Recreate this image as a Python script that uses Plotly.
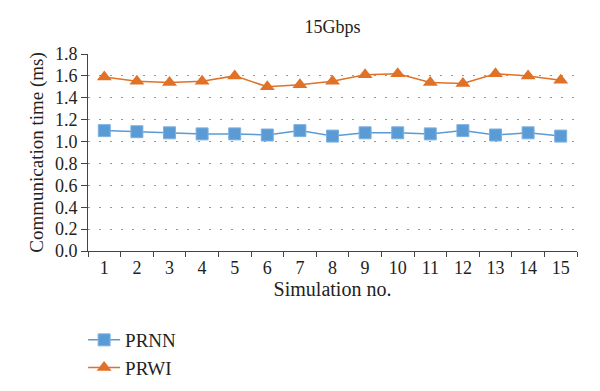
import plotly.graph_objects as go

sims = [str(i) for i in range(1, 16)]
prnn = [1.10, 1.09, 1.08, 1.07, 1.07, 1.06, 1.10, 1.05, 1.08, 1.08, 1.07, 1.10, 1.06, 1.08, 1.05]
prwi = [1.59, 1.55, 1.54, 1.55, 1.60, 1.50, 1.52, 1.55, 1.61, 1.62, 1.54, 1.53, 1.62, 1.60, 1.56]
yticks = [0.0, 0.2, 0.4, 0.6, 0.8, 1.0, 1.2, 1.4, 1.6, 1.8]

FONT = "Liberation Serif"
BLUE = "#5B9BD5"
ORANGE = "#E07126"

# page has 8px body margin -> figure is offset by 8px
W, H = 592, 383
L, R, T, B = 80, 23, 46, 140

fig = go.Figure()
fig.add_trace(go.Scatter(x=sims, y=prnn, name="PRNN", mode="lines+markers",
                         line=dict(color=BLUE, width=1.5),
                         marker=dict(symbol="square", size=12, color=BLUE,
                                     line=dict(color="#7FB2E0", width=1))))
fig.add_trace(go.Scatter(x=sims, y=prwi, name="PRWI", mode="lines+markers",
                         line=dict(color=ORANGE, width=1.5),
                         marker=dict(symbol="triangle-up", size=13, color=ORANGE,
                                     line=dict(color=ORANGE, width=0))))

fig.update_layout(
    template="none",
    width=W, height=H,
    margin=dict(l=L, r=R, t=T, b=B, pad=0),
    paper_bgcolor="white", plot_bgcolor="white",
    font=dict(family=FONT, size=19, color="#222"),
    title=dict(text="15Gbps", x=(L + (W - R)) / 2 / W, xanchor="center",
               y=1 - 19 / H, yanchor="middle", font=dict(size=18)),
    showlegend=True,
    legend=dict(x=-0.01, xanchor="left", xref="paper",
                y=1 - 313 / H, yanchor="top", yref="container",
                orientation="v", font=dict(size=19), tracegroupgap=0,
                itemwidth=32, bgcolor="rgba(0,0,0,0)"),
    xaxis=dict(type="category", tickson="boundaries", ticks="outside",
               range=[-0.5, 14.5], autorange=False,
               ticklen=5, tickcolor="#444", showline=True, linecolor="#444",
               linewidth=1, showgrid=False, automargin=False,
               tickfont=dict(size=18),
               title=dict(text="Simulation no.", standoff=4, font=dict(size=20))),
    yaxis=dict(range=[0, 1.8], tickvals=yticks,
               ticktext=[f"{v:.1f}" for v in yticks],
               ticks="outside", ticklen=6, tickcolor="#444",
               showline=True, linecolor="#444", linewidth=1,
               showgrid=True, gridcolor="#999", griddash="2px,9px", gridwidth=1,
               zeroline=False, automargin=False, tickfont=dict(size=18),
               title=dict(text="Communication time (ms)", standoff=6,
                          font=dict(size=19))),
)

fig.write_html("out.html")
